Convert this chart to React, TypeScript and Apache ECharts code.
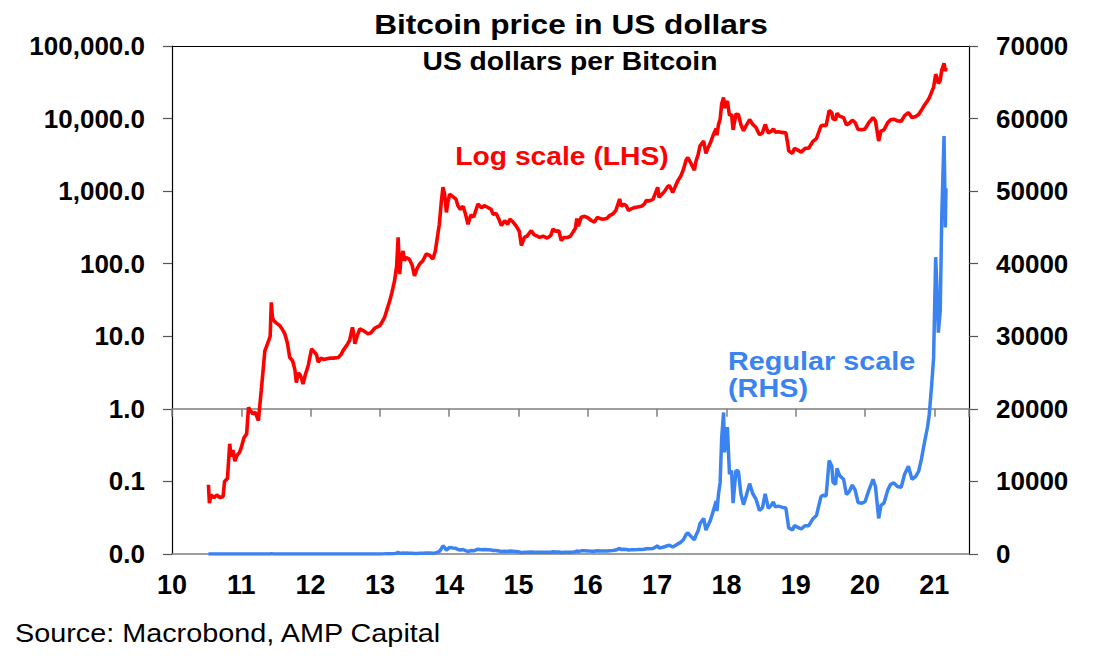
import React, { useEffect, useRef } from "react";
import * as echarts from "echarts";

const TITLE = "Bitcoin price in US dollars";
const SUBTITLE = "US dollars per Bitcoin";
const SOURCE = "Source: Macrobond, AMP Capital";
const LOG_LABEL = "Log scale (LHS)";
const LIN_LABEL = "Regular scale\n(RHS)";

const xTickLabels = ["10", "11", "12", "13", "14", "15", "16", "17", "18", "19", "20", "21"];
const leftTickLabels = ["0.0", "0.1", "1.0", "10.0", "100.0", "1,000.0", "10,000.0", "100,000.0"];
const rightTickLabels = ["0", "10000", "20000", "30000", "40000", "50000", "60000", "70000"];

const dates = [
  "2010-07-12", "2010-07-17", "2010-07-25", "2010-08-10", "2010-08-25", "2010-09-10", "2010-09-27",
  "2010-10-05", "2010-10-20", "2010-11-01", "2010-11-08", "2010-11-18", "2010-11-28", "2010-12-10",
  "2010-12-22", "2011-01-02", "2011-01-15", "2011-01-29", "2011-02-08", "2011-02-18", "2011-03-03",
  "2011-03-15", "2011-04-01", "2011-04-16", "2011-04-25", "2011-05-05", "2011-05-15", "2011-05-25",
  "2011-06-02", "2011-06-08", "2011-06-14", "2011-06-22", "2011-07-05", "2011-07-23", "2011-08-05",
  "2011-08-18", "2011-09-01", "2011-09-13", "2011-09-28", "2011-10-10", "2011-10-18", "2011-10-28",
  "2011-11-05", "2011-11-15", "2011-11-22", "2011-12-05", "2011-12-20", "2012-01-06", "2012-01-18",
  "2012-02-01", "2012-02-10", "2012-02-25", "2012-03-10", "2012-03-26", "2012-04-15", "2012-05-01",
  "2012-05-26", "2012-06-10", "2012-06-21", "2012-07-10", "2012-07-25", "2012-08-09", "2012-08-14",
  "2012-08-22", "2012-09-05", "2012-09-17", "2012-10-05", "2012-10-30", "2012-11-15", "2012-12-05",
  "2013-01-01", "2013-01-25", "2013-02-22", "2013-03-05", "2013-03-19", "2013-03-30", "2013-04-07",
  "2013-04-15", "2013-04-22", "2013-05-03", "2013-05-10", "2013-05-20", "2013-06-05", "2013-06-20",
  "2013-07-02", "2013-07-15", "2013-07-29", "2013-08-15", "2013-09-02", "2013-09-20", "2013-10-07",
  "2013-10-20", "2013-10-28", "2013-11-10", "2013-11-20", "2013-11-29", "2013-12-08", "2013-12-17",
  "2013-12-25", "2014-01-03", "2014-01-20", "2014-02-05", "2014-02-16", "2014-03-01", "2014-03-15",
  "2014-03-28", "2014-04-10", "2014-04-25", "2014-05-10", "2014-06-01", "2014-06-20", "2014-07-05",
  "2014-07-24", "2014-08-10", "2014-08-20", "2014-09-05", "2014-09-20", "2014-10-03", "2014-10-20",
  "2014-11-05", "2014-11-16", "2014-12-01", "2014-12-20", "2015-01-05", "2015-01-16", "2015-02-01",
  "2015-02-15", "2015-03-09", "2015-03-25", "2015-04-10", "2015-04-22", "2015-05-10", "2015-06-01",
  "2015-06-20", "2015-07-01", "2015-07-15", "2015-08-01", "2015-08-14", "2015-08-28", "2015-09-15",
  "2015-10-01", "2015-10-14", "2015-10-28", "2015-11-04", "2015-11-12", "2015-11-27", "2015-12-15",
  "2016-01-01", "2016-01-19", "2016-02-05", "2016-02-20", "2016-03-05", "2016-03-20", "2016-04-10",
  "2016-04-25", "2016-05-12", "2016-05-28", "2016-06-17", "2016-06-25", "2016-07-10", "2016-07-22",
  "2016-08-03", "2016-08-20", "2016-09-04", "2016-09-20", "2016-10-10", "2016-10-25", "2016-11-04",
  "2016-11-20", "2016-12-10", "2017-01-04", "2017-01-11", "2017-01-25", "2017-02-10", "2017-02-25",
  "2017-03-07", "2017-03-24", "2017-04-05", "2017-04-20", "2017-05-05", "2017-05-20", "2017-06-03",
  "2017-06-12", "2017-06-25", "2017-07-16", "2017-07-25", "2017-08-05", "2017-08-15", "2017-08-29",
  "2017-09-03", "2017-09-15", "2017-09-25", "2017-10-08", "2017-10-21", "2017-11-01", "2017-11-08",
  "2017-11-12", "2017-11-20", "2017-11-29", "2017-12-07", "2017-12-17", "2017-12-22", "2018-01-06",
  "2018-01-17", "2018-01-28", "2018-02-05", "2018-02-20", "2018-03-05", "2018-03-18", "2018-04-01",
  "2018-04-15", "2018-05-03", "2018-05-20", "2018-06-05", "2018-06-24", "2018-07-10", "2018-07-24",
  "2018-08-10", "2018-08-25", "2018-09-05", "2018-09-15", "2018-10-01", "2018-10-20", "2018-11-10",
  "2018-11-20", "2018-11-25", "2018-12-15", "2018-12-25", "2019-01-10", "2019-01-30", "2019-02-20",
  "2019-03-10", "2019-04-03", "2019-04-20", "2019-05-14", "2019-05-25", "2019-06-10", "2019-06-26",
  "2019-07-10", "2019-07-16", "2019-07-30", "2019-08-06", "2019-08-20", "2019-09-10", "2019-09-25",
  "2019-10-10", "2019-10-26", "2019-11-10", "2019-11-25", "2019-12-15", "2020-01-01", "2020-01-20",
  "2020-02-12", "2020-02-25", "2020-03-13", "2020-03-25", "2020-04-10", "2020-04-30", "2020-05-15",
  "2020-06-01", "2020-06-20", "2020-07-10", "2020-07-28", "2020-08-17", "2020-09-05", "2020-09-25",
  "2020-10-10", "2020-10-25", "2020-11-10", "2020-11-26", "2020-12-05", "2020-12-17", "2020-12-28",
  "2021-01-08", "2021-01-14", "2021-01-22", "2021-02-01", "2021-02-09", "2021-02-21", "2021-02-28",
  "2021-03-03",
];

const prices = [
  0.09, 0.05, 0.065, 0.06, 0.065, 0.06, 0.062,
  0.10, 0.11, 0.33, 0.22, 0.27, 0.19, 0.23,
  0.25, 0.30, 0.40, 0.45, 1.05, 0.95, 0.85,
  0.90, 0.69, 1.79, 3.2, 6.3, 7.4, 8.7,
  10.0, 29.4, 18.0, 16.4, 15.2, 14.0, 12.5,
  10.8, 8.0, 5.1, 4.6, 3.5, 2.3, 3.1,
  3.0, 2.6, 2.2, 3.0, 4.0, 6.7, 6.2,
  5.6, 4.4, 5.0, 4.8, 4.9, 5.0, 5.0,
  5.1, 5.6, 6.4, 7.5, 8.8, 13.3, 11.5,
  7.9, 10.5, 12.6, 12.0, 10.8, 11.2, 13.0,
  14.0, 18.0, 31, 40, 58, 92, 231,
  72, 120, 150, 110, 122, 115, 95,
  68, 85, 99, 110, 136, 130, 116,
  150, 208, 350, 700, 1130, 900, 510,
  700, 910, 840, 780, 630, 560, 620,
  480, 350, 470, 440, 665, 590, 630,
  595, 560, 480, 490, 410, 335, 390,
  350, 410, 380, 330, 280, 178, 230,
  240, 285, 250, 240, 231, 240, 225,
  245, 300, 280, 285, 208, 230, 230,
  238, 270, 310, 420, 330, 438, 450,
  430, 394, 375, 435, 420, 410, 420,
  460, 485, 540, 780, 620, 660, 630,
  540, 575, 595, 605, 620, 660, 740,
  735, 770, 1130, 820, 900, 1000, 1150,
  1200, 960, 1130, 1390, 1600, 2000, 2700,
  2900, 2500, 1950, 2600, 3200, 4200, 4700,
  4900, 3300, 3900, 4600, 5700, 6700, 7300,
  5900, 8200, 9900, 16000, 19500, 14000, 17500,
  11000, 11500, 7000, 11500, 11400, 8300, 6800,
  8000, 9700, 8300, 7600, 6000, 6400, 8300,
  6300, 6700, 7200, 6500, 6600, 6450, 6350,
  4500, 3600, 3300, 3900, 3700, 3450, 3900,
  3900, 4900, 5300, 7900, 8100, 8000, 12900,
  12100, 9900, 9600, 11800, 10800, 10300, 8200,
  8600, 9500, 8800, 7100, 7000, 7200, 8700,
  10300, 9300, 4900, 6700, 7000, 8800, 9600,
  9800, 9300, 9200, 11000, 12100, 10300, 10700,
  11400, 13100, 15400, 17500, 19200, 23000, 27000,
  40900, 37000, 30500, 33500, 46500, 57600, 45000,
  50400,
];

const RED = "#FF0000";
const BLUE = "#3A83F1";
const FONT = "'Liberation Sans', Arial, sans-serif";

function toDecimalYear(d: string): number {
  const [y, m, day] = d.split("-").map(Number);
  const t = Date.UTC(y, m - 1, day);
  const t0 = Date.UTC(y, 0, 1);
  const t1 = Date.UTC(y + 1, 0, 1);
  return y + (t - t0) / (t1 - t0);
}

export default function App() {
  const ref = useRef<HTMLDivElement>(null);

  useEffect(() => {
    if (!ref.current) return;
    const chart = echarts.init(ref.current, undefined, { renderer: "svg" });
    const H = 665;
    const gLeft = 172;
    const gRight = 145;
    const gTop = 46;
    const gBottom = 111;
    const gHeight = H - gTop - gBottom;
    const decades = leftTickLabels.length - 1;
    // second grid whose bottom edge sits at the 1.0 level of the log axis
    const oneLevelBottom = gBottom + (gHeight * 2) / decades;

    const seriesData = dates.map((d, i) => [toDecimalYear(d), prices[i]]);

    const xMin = 2010;
    const xMax = 2021.5;
    const SX = 1.13;

    const option: any = {
      animation: false,
      backgroundColor: "#fff",
      textStyle: { fontFamily: FONT },
      grid: [
        { left: gLeft, right: gRight, top: gTop, bottom: gBottom, containLabel: false, outerBoundsMode: "none" },
        { left: gLeft, right: gRight, top: gTop, bottom: oneLevelBottom, containLabel: false, outerBoundsMode: "none" },
      ],
      xAxis: [
        {
          gridIndex: 0,
          type: "value",
          position: "bottom",
          min: xMin,
          max: xMax,
          interval: 1,
          splitLine: { show: false },
          axisLine: { show: true, lineStyle: { color: "#7f7f7f", width: 1.5 } },
          axisTick: { show: false },
          axisLabel: {
            margin: 17,
            fontSize: 27,
            fontWeight: "bold",
            color: "#000",
            fontFamily: FONT,
            formatter: (v: number) => {
              const idx = Math.round(v - xMin);
              return Math.abs(v - Math.round(v)) < 1e-6 && xTickLabels[idx] ? xTickLabels[idx] : "";
            },
          },
        },
        {
          gridIndex: 0,
          type: "value",
          position: "top",
          min: xMin,
          max: xMax,
          splitLine: { show: false },
          axisLine: { show: true, lineStyle: { color: "#000", width: 1 } },
          axisTick: { show: false },
          axisLabel: { show: false },
        },
        {
          gridIndex: 1,
          type: "value",
          position: "bottom",
          min: xMin,
          max: xMax,
          interval: 1,
          splitLine: { show: false },
          axisLine: { show: true, lineStyle: { color: "#7f7f7f", width: 1.5 } },
          axisTick: { show: true, length: 8, lineStyle: { color: "#7f7f7f", width: 1.5 } },
          axisLabel: { show: false },
        },
      ],
      yAxis: [
        {
          gridIndex: 0,
          type: "log",
          logBase: 10,
          min: 0.01,
          max: 100000,
          position: "left",
          splitLine: { show: false },
          axisLine: { show: true, lineStyle: { color: "#000", width: 1.2 } },
          axisTick: { show: true, length: 9, lineStyle: { color: "#555", width: 1.2 } },
          axisLabel: {
            margin: 27,
            fontSize: 26,
            fontWeight: "bold",
            color: "#000",
            fontFamily: FONT,
            formatter: (v: number) => {
              const idx = Math.round(Math.log10(v)) + 2;
              return leftTickLabels[idx] ?? "";
            },
          },
        },
        {
          gridIndex: 0,
          type: "value",
          min: 0,
          max: 70000,
          interval: 10000,
          position: "right",
          splitLine: { show: false },
          axisLine: { show: true, lineStyle: { color: "#000", width: 1.2 } },
          axisTick: { show: true, length: 9, lineStyle: { color: "#555", width: 1.2 } },
          axisLabel: {
            margin: 27,
            fontSize: 26,
            fontWeight: "bold",
            color: "#000",
            fontFamily: FONT,
            formatter: (v: number) => {
              const idx = Math.round(v / 10000);
              return rightTickLabels[idx] ?? "";
            },
          },
        },
        {
          gridIndex: 1,
          type: "value",
          min: 0,
          max: 1,
          show: false,
        },
      ],
      series: [
        {
          name: "Log scale (LHS)",
          type: "line",
          xAxisIndex: 0,
          yAxisIndex: 0,
          data: seriesData,
          showSymbol: false,
          symbol: "none",
          lineStyle: { color: RED, width: 3.6 },
          itemStyle: { color: RED },
          z: 3,
        },
        {
          name: "Regular scale (RHS)",
          type: "line",
          xAxisIndex: 0,
          yAxisIndex: 1,
          data: seriesData,
          showSymbol: false,
          symbol: "none",
          lineStyle: { color: BLUE, width: 3.5 },
          itemStyle: { color: BLUE },
          z: 4,
        },
      ],
      graphic: [
        {
          type: "text",
          x: 571,
          y: 24,
          scaleX: SX,
          style: {
            text: TITLE,
            fill: "#000",
            font: `bold 28px ${FONT}`,
            textAlign: "center",
            textVerticalAlign: "middle",
          },
        },
        {
          type: "text",
          x: 570,
          y: 62,
          scaleX: SX,
          style: {
            text: SUBTITLE,
            fill: "#000",
            font: `bold 25px ${FONT}`,
            textAlign: "center",
            textVerticalAlign: "middle",
          },
        },
        {
          type: "text",
          x: 562,
          y: 157,
          scaleX: SX,
          style: {
            text: LOG_LABEL,
            fill: RED,
            font: `bold 25px ${FONT}`,
            textAlign: "center",
            textVerticalAlign: "middle",
          },
        },
        {
          type: "text",
          x: 728,
          y: 374.5,
          scaleX: SX,
          style: {
            text: LIN_LABEL,
            fill: BLUE,
            font: `bold 25.5px ${FONT}`,
            lineHeight: 27,
            textAlign: "left",
            textVerticalAlign: "middle",
          },
        },
        {
          type: "text",
          x: 15,
          y: 633,
          scaleX: SX,
          style: {
            text: SOURCE,
            fill: "#000",
            font: `25.5px ${FONT}`,
            textAlign: "left",
            textVerticalAlign: "middle",
          },
        },
      ],
    };

    chart.setOption(option);
    return () => {
      chart.dispose();
    };
  }, []);

  return (
    <div
      ref={ref}
      style={{ position: "absolute", left: 0, top: 0, width: 1114, height: 665, background: "#fff" }}
    />
  );
}
